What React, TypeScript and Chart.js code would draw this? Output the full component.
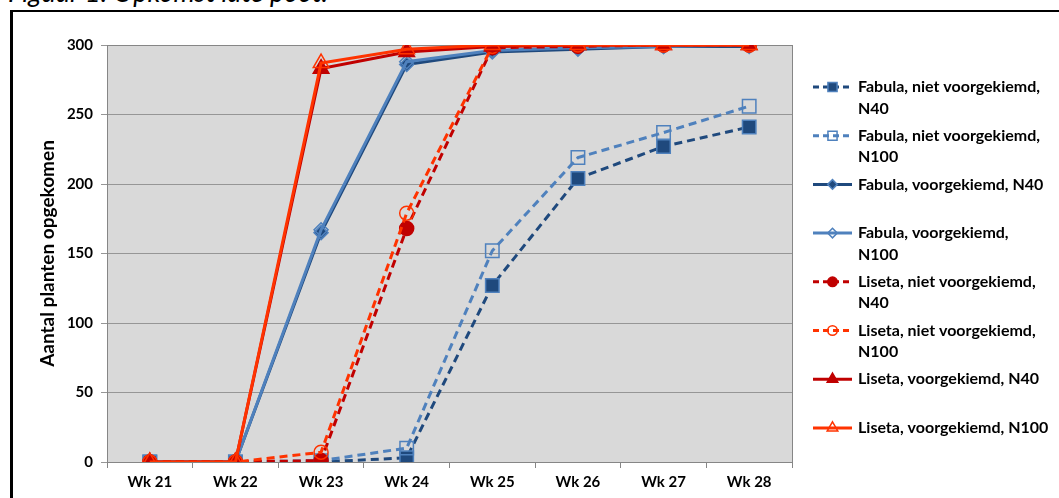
import { useEffect, useRef } from 'react';
import { Chart, registerables } from 'chart.js';
import { drawPoint } from 'chart.js/helpers';

Chart.register(...registerables);

// Emergence counts per week
const weeks = ['Wk 21', 'Wk 22', 'Wk 23', 'Wk 24', 'Wk 25', 'Wk 26', 'Wk 27', 'Wk 28'];

const fabulaNietN40 = [0, 0, 0, 3, 127, 204, 227, 241];
const fabulaNietN100 = [0, 0, 1, 10, 152, 219, 237, 256];
const fabulaVoorN40 = [0, 0, 165, 286, 295, 297, 299, 299];
const fabulaVoorN100 = [0, 0, 167, 288, 296, 298, 299, 300];
const lisetaNietN40 = [0, 0, 1, 168, 298, 299, 300, 300];
const lisetaNietN100 = [0, 0, 7, 179, 299, 300, 300, 300];
const lisetaVoorN40 = [0, 0, 283, 295, 299, 300, 300, 300];
const lisetaVoorN100 = [0, 0, 287, 297, 300, 300, 300, 300];

const yMin = 0;
const yMax = 300;
const yStep = 50;

// Legend labels, already split over lines as they are shown
const legendLabels: string[][] = [
  ['Fabula, niet voorgekiemd,', 'N40'],
  ['Fabula, niet voorgekiemd,', 'N100'],
  ['Fabula, voorgekiemd, N40'],
  ['Fabula, voorgekiemd,', 'N100'],
  ['Liseta, niet voorgekiemd,', 'N40'],
  ['Liseta, niet voorgekiemd,', 'N100'],
  ['Liseta, voorgekiemd, N40'],
  ['Liseta, voorgekiemd, N100'],
];

const DARK_BLUE = '#1F497D';
const LIGHT_BLUE = '#4F81BD';
const DARK_RED = '#C00000';
const ORANGE_RED = '#FF3300';
const NONE = 'rgba(0,0,0,0)';

const FONT = 'Lato, "Open Sans", sans-serif';

type SeriesStyle = {
  data: number[];
  color: string;
  dashed: boolean;
  pointStyle: string;
  radius: number;
  fill: string;
  edge: string;
};

const series: SeriesStyle[] = [
  { data: fabulaNietN40, color: DARK_BLUE, dashed: true, pointStyle: 'rect', radius: 9.5, fill: DARK_BLUE, edge: LIGHT_BLUE },
  { data: fabulaNietN100, color: LIGHT_BLUE, dashed: true, pointStyle: 'rect', radius: 9.5, fill: NONE, edge: LIGHT_BLUE },
  { data: fabulaVoorN40, color: DARK_BLUE, dashed: false, pointStyle: 'rectRot', radius: 7, fill: DARK_BLUE, edge: LIGHT_BLUE },
  { data: fabulaVoorN100, color: LIGHT_BLUE, dashed: false, pointStyle: 'rectRot', radius: 7, fill: NONE, edge: LIGHT_BLUE },
  { data: lisetaNietN40, color: DARK_RED, dashed: true, pointStyle: 'circle', radius: 7, fill: DARK_RED, edge: DARK_RED },
  { data: lisetaNietN100, color: ORANGE_RED, dashed: true, pointStyle: 'circle', radius: 7, fill: NONE, edge: ORANGE_RED },
  { data: lisetaVoorN40, color: DARK_RED, dashed: false, pointStyle: 'triangle', radius: 9, fill: DARK_RED, edge: DARK_RED },
  { data: lisetaVoorN100, color: ORANGE_RED, dashed: false, pointStyle: 'triangle', radius: 9, fill: NONE, edge: ORANGE_RED },
];

const LEGEND_TOP = 87;
const LEGEND_STEP = 48.7;
const LEGEND_LINE_GAP = 21.5;
const LEGEND_X0 = 813;
const LEGEND_X1 = 852;
const LEGEND_TEXT_X = 858;

// Grey plot area with its frame
const plotAreaPlugin = {
  id: 'plotArea',
  beforeDraw(chart: any) {
    const { ctx, chartArea: a } = chart;
    ctx.save();
    ctx.fillStyle = '#D9D9D9';
    ctx.fillRect(a.left, a.top, a.right - a.left, a.bottom - a.top);
    ctx.restore();
  },
  beforeDatasetsDraw(chart: any) {
    const { ctx, chartArea: a } = chart;
    ctx.save();
    ctx.strokeStyle = '#868686';
    ctx.lineWidth = 1;
    ctx.strokeRect(Math.round(a.left) + 0.5, Math.round(a.top) + 0.5, Math.round(a.right - a.left), Math.round(a.bottom - a.top));
    ctx.restore();
  },
};

// Legend on the right with wrapped labels
const sideLegendPlugin = {
  id: 'sideLegend',
  afterDraw(chart: any) {
    const ctx = chart.ctx;
    chart.data.datasets.forEach((ds: any, i: number) => {
      const y = LEGEND_TOP + i * LEGEND_STEP;
      ctx.save();
      ctx.strokeStyle = ds.borderColor;
      ctx.lineWidth = 3;
      ctx.setLineDash(ds.borderDash && ds.borderDash.length ? [6, 4] : []);
      ctx.beginPath();
      ctx.moveTo(LEGEND_X0, y);
      ctx.lineTo(LEGEND_X1, y);
      ctx.stroke();
      ctx.setLineDash([]);
      ctx.fillStyle = ds.pointBackgroundColor;
      ctx.strokeStyle = ds.pointBorderColor;
      ctx.lineWidth = ds.pointBorderWidth;
      drawPoint(ctx, { pointStyle: ds.pointStyle, rotation: 0, borderWidth: ds.pointBorderWidth, radius: ds.pointRadius * 0.68 } as any, (LEGEND_X0 + LEGEND_X1) / 2, y);
      ctx.fillStyle = '#000';
      ctx.font = `bold 16px ${FONT}`;
      ctx.textBaseline = 'middle';
      ctx.textAlign = 'left';
      legendLabels[i].forEach((line, j) => {
        ctx.fillText(line, LEGEND_TEXT_X, y + j * LEGEND_LINE_GAP);
      });
      ctx.restore();
    });
  },
};

export default function App() {
  const canvasRef = useRef<HTMLCanvasElement | null>(null);

  useEffect(() => {
    if (!canvasRef.current) return;
    const chart = new Chart(canvasRef.current, {
      type: 'line',
      data: {
        labels: weeks,
        datasets: series.map((s, i) => ({
          label: legendLabels[i].join(' '),
          data: s.data,
          borderColor: s.color,
          backgroundColor: s.color,
          borderWidth: 3,
          borderDash: s.dashed ? [8, 5] : [],
          pointStyle: s.pointStyle as any,
          pointRadius: s.radius,
          pointHoverRadius: s.radius,
          pointBackgroundColor: s.fill,
          pointBorderColor: s.edge,
          pointBorderWidth: 1.5,
          fill: false,
          tension: 0,
          order: series.length - 1 - i,
        })),
      },
      options: {
        responsive: false,
        animation: false,
        events: [],
        layout: { padding: { left: 0, top: 45, right: 267, bottom: 0 } },
        plugins: {
          legend: { display: false },
          tooltip: { enabled: false },
          title: { display: false },
        },
        scales: {
          x: {
            type: 'category',
            offset: true,
            grid: {
              offset: true,
              drawOnChartArea: false,
              drawTicks: true,
              tickLength: 6,
              color: '#868686',
            },
            border: { display: true, color: '#868686' },
            ticks: {
              autoSkip: false,
              maxRotation: 0,
              color: '#000',
              padding: 5,
              font: { family: FONT, size: 15, weight: 'bold' },
            },
            afterFit: (scale: any) => {
              scale.height = 36;
            },
          },
          y: {
            min: yMin,
            max: yMax,
            ticks: {
              stepSize: yStep,
              color: '#000',
              padding: 8,
              font: { family: FONT, size: 15, weight: 'bold' },
            },
            grid: {
              color: '#969696',
              tickLength: 6,
              drawTicks: true,
            },
            border: { display: true, color: '#868686' },
            title: {
              display: true,
              text: 'Aantal planten opgekomen',
              color: '#000',
              font: { family: FONT, size: 19, weight: 'bold' },
              padding: { top: 36, bottom: 0 },
            },
            afterFit: (scale: any) => {
              scale.width = 107;
            },
          },
        },
      },
      plugins: [plotAreaPlugin, sideLegendPlugin],
    });
    return () => chart.destroy();
  }, []);

  return (
    <div style={{ position: 'absolute', left: 0, top: 0, width: 1059, height: 498, overflow: 'hidden', background: '#fff' }}>
      <div
        style={{
          position: 'absolute',
          left: 8,
          top: -22,
          fontFamily: FONT,
          fontStyle: 'italic',
          fontSize: 27,
          lineHeight: '27px',
          whiteSpace: 'nowrap',
          color: '#000',
        }}
      >
        Figuur 1. Opkomst late poot.
      </div>
      <div
        style={{
          position: 'absolute',
          left: 10,
          top: 10,
          width: 1200,
          height: 700,
          borderLeft: '3px solid #000',
          borderTop: '2px solid #000',
        }}
      />
      <canvas
        ref={canvasRef}
        width={1059}
        height={498}
        style={{ position: 'absolute', left: 0, top: 0, width: 1059, height: 498 }}
      />
    </div>
  );
}
